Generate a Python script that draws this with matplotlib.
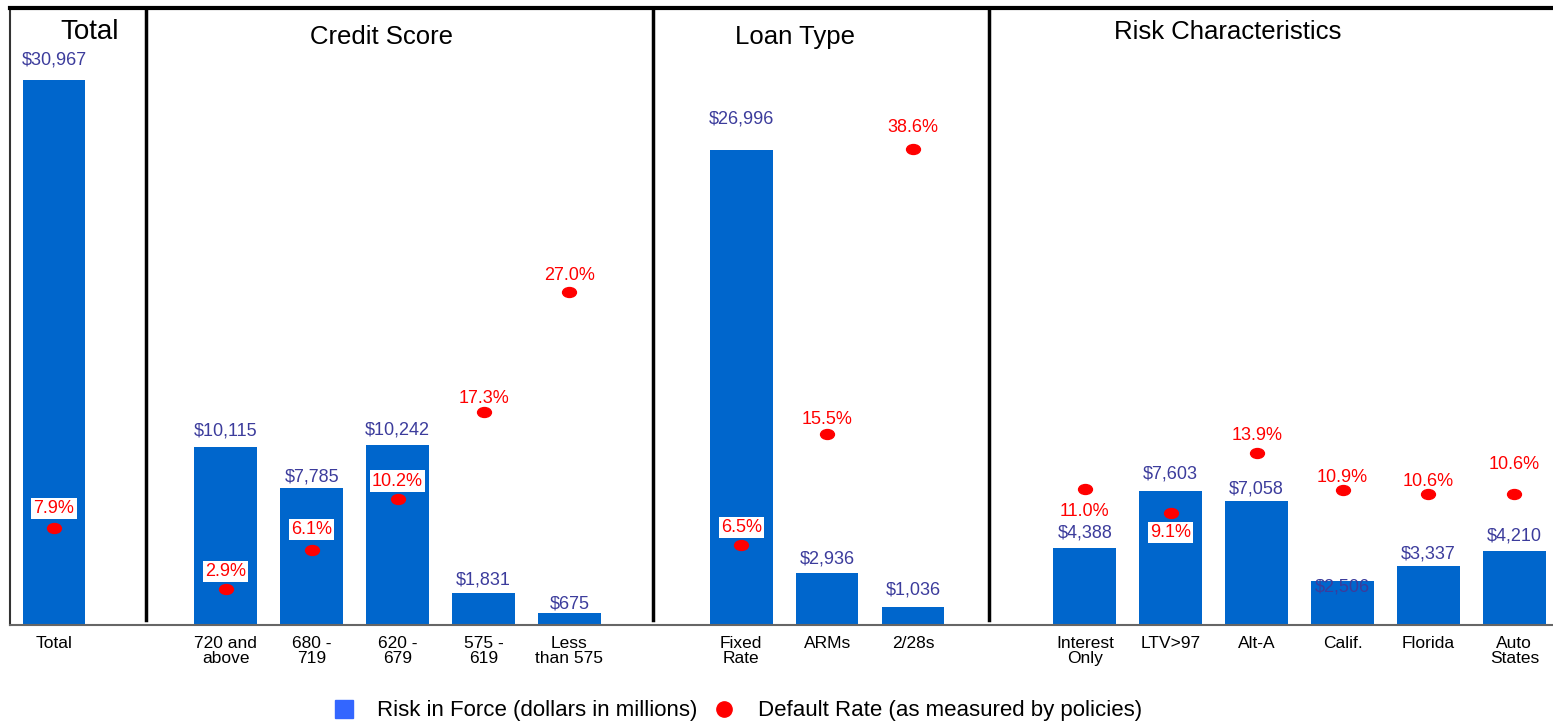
import matplotlib.pyplot as plt
from matplotlib.lines import Line2D
from matplotlib.path import Path
from matplotlib.transforms import Affine2D

plt.rcParams['font.family'] = ['Liberation Sans', 'DejaVu Sans']

# data
categories = ["Total",
              "720 and\nabove", "680 -\n719", "620 -\n679", "575 -\n619", "Less\nthan 575",
              "Fixed\nRate", "ARMs", "2/28s",
              "Interest\nOnly", "LTV>97", "Alt-A", "Calif.", "Florida", "Auto\nStates"]
risk_in_force = [30967,
                 10115, 7785, 10242, 1831, 675,
                 26996, 2936, 1036,
                 4388, 7603, 7058, 2506, 3337, 4210]
default_rate = [7.9,
                2.9, 6.1, 10.2, 17.3, 27.0,
                6.5, 15.5, 38.6,
                11.0, 9.1, 13.9, 10.9, 10.6, 10.6]
groups = ["Total", "Credit Score", "Loan Type", "Risk Characteristics"]

# layout / style (slot positions with gaps between groups)
pos = [0, 2, 3, 4, 5, 6, 8, 9, 10, 12, 13, 14, 15, 16, 17]
separators = [1.07, 6.97, 10.88]
group_x = [0.42, 3.81, 8.63, 13.66]
group_y = [0.961, 0.953, 0.953, 0.961]
group_size = [20, 18.5, 18.5, 18.5]
# label offsets in pixels (hand placed in the original)
value_off = [20, 16, 11, 15, 13, 9, 31, 14, 17, 15, 17, 12, -6, 12, 15]
rate_off = [19, 18, 20, 18, 13, 16, 17, 14, 21, -22, -20, 18, 13, 13, 30]
rate_boxed = [True, True, True, True, False, False, True, False, False,
              False, True, False, False, False, False]

bar_color = "#0066cc"
value_color = "#3c3c9c"
px = 0.72  # points per pixel at dpi 100

fig = plt.figure(figsize=(15.53, 7.24), dpi=100)
ax = fig.add_axes([10 / 1553, 99 / 724, 1543 / 1553, 617 / 724])
ax.bar(pos, risk_in_force, width=0.73, color=bar_color, zorder=2)
ax.set_xlim(-0.512, 17.45)
ax.set_ylim(0, 35050)
ax.set_yticks([])
ax.set_xticks(pos)
ax.set_xticklabels(categories, fontsize=12.5, linespacing=1.0)
ax.tick_params(axis="x", length=0, pad=8)

ax.spines["right"].set_visible(False)
ax.spines["top"].set_linewidth(3)
ax.spines["top"].set_color("black")
ax.spines["left"].set_color("#333333")
ax.spines["left"].set_linewidth(1.5)
ax.spines["bottom"].set_color("#666666")
ax.spines["bottom"].set_linewidth(1.5)

for x in separators:
    ax.axvline(x, ymin=0.008, ymax=1, color="black", linewidth=2.5, zorder=3)

for x, v, off in zip(pos, risk_in_force, value_off):
    ax.annotate(f"${v:,}", (x, v), xytext=(0, off * px), textcoords="offset points",
                ha="center", va="center", fontsize=13, color=value_color, zorder=4)

tr = ax.get_xaxis_transform()
for name, x, y, fs in zip(groups, group_x, group_y, group_size):
    ax.text(x, y, name, transform=tr, ha="center", va="center", fontsize=fs)

# default rate on a secondary scale
ax2 = ax.twinx()
ax2.set_ylim(0, 50)
ax2.set_yticks([])
for s in ax2.spines.values():
    s.set_visible(False)
ellipse = Path.unit_circle().transformed(Affine2D().scale(1.4, 1.0))
ax2.plot(pos, default_rate, linestyle="none", marker=ellipse, markersize=10,
         color="red", zorder=5)
for x, r, off, boxed in zip(pos, default_rate, rate_off, rate_boxed):
    bbox = dict(facecolor="white", edgecolor="none", pad=1.5) if boxed else None
    ax2.annotate(f"{r:.1f}%", (x, r), xytext=(0, off * px), textcoords="offset points",
                 ha="center", va="center", fontsize=13, color="red", bbox=bbox)

handles = [Line2D([], [], marker="s", color="#3366ff", linestyle="none", markersize=13),
           Line2D([], [], marker="o", color="red", linestyle="none", markersize=11)]
fig.legend(handles, ["Risk in Force (dollars in millions)",
                     "Default Rate (as measured by policies)"],
           loc="center", bbox_to_anchor=(0.4747, 0.018), ncol=2, frameon=False,
           fontsize=16, handlelength=1.0, handletextpad=1.0, columnspacing=0.7)

fig.savefig("out.png", dpi=100)
